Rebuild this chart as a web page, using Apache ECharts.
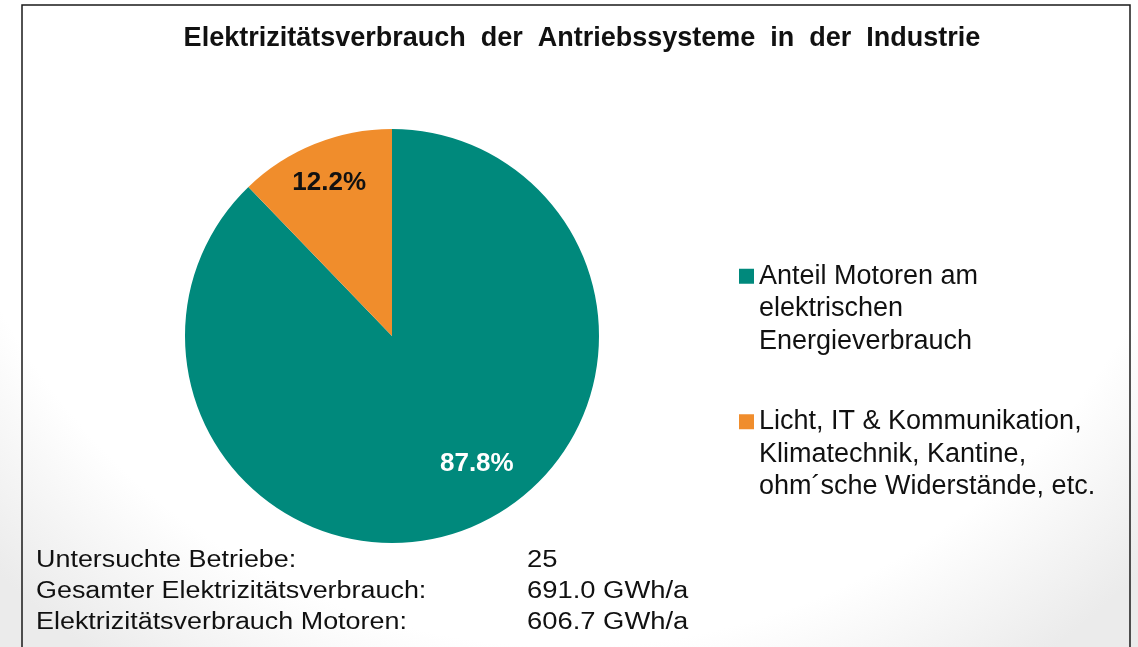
<!DOCTYPE html>
<html>
<head>
<meta charset="utf-8">
<script src="https://cdn.jsdelivr.net/npm/echarts@6/dist/echarts.min.js"></script>
<style>
  html, body { margin: 0; padding: 0; background: #fff; }
  #main { width: 1138px; height: 647px; }
</style>
</head>
<body>
<div id="main"></div>
<script>
// data
var categories = [
  "Anteil Motoren am\nelektrischen\nEnergieverbrauch",
  "Licht, IT & Kommunikation,\nKlimatechnik, Kantine,\nohm´sche Widerstände, etc."
];
var shares = [87.8, 12.2];
var sliceColors = ["#00897c", "#f08d2c"];
var footerLabels = ["Untersuchte Betriebe:", "Gesamter Elektrizitätsverbrauch:", "Elektrizitätsverbrauch Motoren:"];
var footerValues = ["25", "691.0 GWh/a", "606.7 GWh/a"];

var myChart = echarts.init(document.getElementById("main"));

var pieData = categories.map(function (name, i) {
  return {
    value: shares[i],
    name: name,
    itemStyle: { color: sliceColors[i] },
    label: i === 0
      ? { color: "#ffffff", offset: [45, 29] }
      : { color: "#111111", offset: [-23, -54] }
  };
});

var footerFont = "23px 'Liberation Sans', Arial, sans-serif";
var footer = [];
footerLabels.forEach(function (t, i) {
  footer.push({
    type: "text", x: 36, y: 549 + i * 31, scaleX: 1.17, silent: true,
    style: { text: t, font: footerFont, fill: "#111" }
  });
  footer.push({
    type: "text", x: 527, y: 549 + i * 31, scaleX: 1.19, silent: true,
    style: { text: footerValues[i], font: footerFont, fill: "#111" }
  });
});

var option = {
  backgroundColor: {
    type: "radial", x: 0.5, y: 0.0, r: 1.25,
    colorStops: [
      { offset: 0, color: "#ffffff" },
      { offset: 0.8, color: "#ffffff" },
      { offset: 1, color: "#ebebeb" }
    ]
  },
  animation: false,
  title: {
    text: "Elektrizitätsverbrauch  der  Antriebssysteme  in  der  Industrie",
    left: 577,
    textAlign: "center",
    top: 20,
    textStyle: { fontFamily: "Liberation Sans", fontWeight: "bold", fontSize: 27, color: "#111" }
  },
  legend: {
    orient: "vertical",
    left: 739,
    top: 195,
    padding: 0,
    itemWidth: 15,
    itemHeight: 15,
    itemGap: -17,
    icon: "rect",
    data: categories,
    formatter: function (name) { return "\n\n" + name; },
    textStyle: { fontFamily: "Liberation Sans", fontSize: 27, lineHeight: 32.5, color: "#111" }
  },
  graphic: [
    {
      type: "rect", silent: true,
      shape: { x: 22, y: 5, width: 1108, height: 700 },
      style: { fill: "none", stroke: "#1a1a1a", lineWidth: 1.5 }
    }
  ].concat(footer),
  series: [
    {
      type: "pie",
      center: [392, 336],
      radius: 207,
      startAngle: 90,
      clockwise: true,
      label: {
        show: true,
        position: "inside",
        formatter: function (p) { return p.value.toFixed(1) + "%"; },
        fontFamily: "Liberation Sans",
        fontWeight: "bold",
        fontSize: 26
      },
      labelLine: { show: false },
      emphasis: { disabled: true },
      data: pieData
    }
  ]
};

myChart.setOption(option);
</script>
</body>
</html>
